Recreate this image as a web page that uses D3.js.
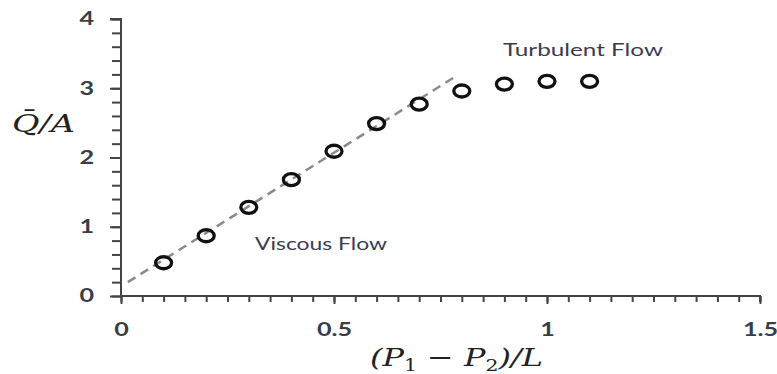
<!DOCTYPE html>
<html><head><meta charset="utf-8">
<script src="https://cdn.jsdelivr.net/npm/d3@7"></script>
<style>
body{margin:0;background:#fff;}
svg{display:block;}
</style></head>
<body>
<svg id="c" width="777" height="374"></svg>
<script>
const xValues = [0.1,0.2,0.3,0.4,0.5,0.6,0.7,0.8,0.9,1.0,1.1];
const yValues = [0.48,0.87,1.28,1.68,2.09,2.49,2.77,2.96,3.06,3.10,3.10];
const fitLine = [[0.016,0.2],[0.78,3.15]];
const xTicks = [0,0.5,1,1.5];
const yTicks = [0,1,2,3,4];
const xTickLabels = ["0","0.5","1","1.5"];
const yTickLabels = ["0","1","2","3","4"];
const annotations = [
  {text:"Turbulent Flow", x:1.0845, y:3.47, len:160, size:18},
  {text:"Viscous Flow", x:0.4695, y:0.66, len:132, size:17}
];

const svg = d3.select("#c");
const x = d3.scaleLinear().domain([0,1.5]).range([121,760]);
const y = d3.scaleLinear().domain([0,4]).range([296,19]);
const axisColor = "#444";
const labelFont = "Lato, 'Open Sans', sans-serif";
const stretch = 1.4;

// minor ticks
const xMinor = d3.range(0,1.5001,0.05);
const yMinor = d3.range(0,4.001,0.2);
const gxm = svg.append("g").attr("transform","translate(0,296)")
  .call(d3.axisBottom(x).tickValues(xMinor).tickSize(6).tickFormat(""));
const gym = svg.append("g").attr("transform","translate(121,0)")
  .call(d3.axisLeft(y).tickValues(yMinor).tickSize(9).tickFormat(""));
const gx = svg.append("g").attr("transform","translate(0,296)")
  .call(d3.axisBottom(x).tickValues(xTicks).tickSize(8).tickSizeOuter(0).tickPadding(19)
    .tickFormat((d,i)=>xTickLabels[i]));
const gy = svg.append("g").attr("transform","translate(121,0)")
  .call(d3.axisLeft(y).tickValues(yTicks).tickSize(11).tickSizeOuter(0).tickPadding(16)
    .tickFormat((d,i)=>yTickLabels[i]));
[gxm,gym,gx,gy].forEach(g=>{
  g.selectAll("path,line").attr("stroke",axisColor).attr("stroke-width",2);
  g.selectAll("text").attr("fill","#3a3d48").style("font-family",labelFont)
   .style("font-size","18px").style("font-weight","bold");
});
gx.selectAll(".tick text").attr("transform",`scale(${stretch},1)`);
gy.selectAll(".tick text").attr("x",-27/stretch).attr("transform",`scale(${stretch},1)`);
gym.select("path").remove(); gxm.select("path").remove();
gy.select("path").attr("d","M-11,19H0V296");
gx.select("path").attr("d","M121,0H760V6");

// fit line
svg.append("path")
  .attr("d", d3.line().x(d=>x(d[0])).y(d=>y(d[1]))(fitLine))
  .attr("stroke","#8a8a8a").attr("stroke-width",2.5).attr("stroke-dasharray","9,6").attr("fill","none");

// points
svg.append("g").selectAll("ellipse").data(xValues).join("ellipse")
  .attr("cx",d=>x(d)).attr("cy",(d,i)=>y(yValues[i])).attr("rx",8).attr("ry",6)
  .attr("fill","none").attr("stroke","#111").attr("stroke-width",3.3);

// annotations
svg.append("g").selectAll("text").data(annotations).join("text")
  .attr("x",d=>x(d.x)).attr("y",d=>y(d.y)).attr("text-anchor","middle")
  .attr("textLength",d=>d.len).attr("lengthAdjust","spacingAndGlyphs")
  .attr("fill","#3a3d50").style("font-family",labelFont).style("font-size",d=>d.size+"px")
  .text(d=>d.text);

// axis titles
const yt = svg.append("text").attr("x",12).attr("y",132)
  .attr("textLength",63).attr("lengthAdjust","spacingAndGlyphs")
  .style("font-family","'DejaVu Serif','Liberation Serif',serif").style("font-style","italic")
  .style("font-size","25px").attr("fill","#222");
yt.append("tspan").text("Q\u0304");
yt.append("tspan").text("/A");

const xt = svg.append("text").attr("x",370).attr("y",366)
  .attr("textLength",173).attr("lengthAdjust","spacingAndGlyphs")
  .style("font-family","'DejaVu Serif','Liberation Serif',serif").style("font-style","italic")
  .style("font-size","25px").attr("fill","#222");
xt.append("tspan").text("(P");
xt.append("tspan").text("1").attr("font-size","16px").attr("dy",5).style("font-style","normal");
xt.append("tspan").text(" \u2212 P").attr("dy",-5);
xt.append("tspan").text("2").attr("font-size","16px").attr("dy",5).style("font-style","normal");
xt.append("tspan").text(")/L").attr("dy",-5);
</script>
</body></html>
